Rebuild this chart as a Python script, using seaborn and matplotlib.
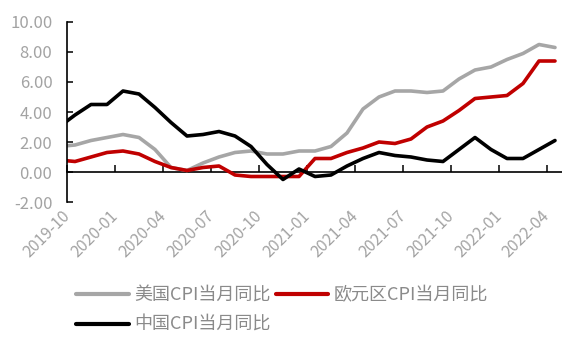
import numpy as np
import pandas as pd
import matplotlib
matplotlib.use("Agg")
import matplotlib.pyplot as plt
from matplotlib.ticker import FormatStrFormatter
import seaborn as sns

# Monthly year-on-year CPI (%), 2019-09 .. 2022-04
months = [
    "2019-09", "2019-10", "2019-11", "2019-12",
    "2020-01", "2020-02", "2020-03", "2020-04", "2020-05", "2020-06",
    "2020-07", "2020-08", "2020-09", "2020-10", "2020-11", "2020-12",
    "2021-01", "2021-02", "2021-03", "2021-04", "2021-05", "2021-06",
    "2021-07", "2021-08", "2021-09", "2021-10", "2021-11", "2021-12",
    "2022-01", "2022-02", "2022-03", "2022-04",
]
us_cpi = [1.7, 1.8, 2.1, 2.3,
          2.5, 2.3, 1.5, 0.3, 0.1, 0.6, 1.0, 1.3, 1.4, 1.2, 1.2, 1.4,
          1.4, 1.7, 2.6, 4.2, 5.0, 5.4, 5.4, 5.3, 5.4, 6.2, 6.8, 7.0,
          7.5, 7.9, 8.5, 8.3]
euro_cpi = [0.8, 0.7, 1.0, 1.3,
            1.4, 1.2, 0.7, 0.3, 0.1, 0.3, 0.4, -0.2, -0.3, -0.3, -0.3, -0.3,
            0.9, 0.9, 1.3, 1.6, 2.0, 1.9, 2.2, 3.0, 3.4, 4.1, 4.9, 5.0,
            5.1, 5.9, 7.4, 7.4]
china_cpi = [3.0, 3.8, 4.5, 4.5,
             5.4, 5.2, 4.3, 3.3, 2.4, 2.5, 2.7, 2.4, 1.7, 0.5, -0.5, 0.2,
             -0.3, -0.2, 0.4, 0.9, 1.3, 1.1, 1.0, 0.8, 0.7, 1.5, 2.3, 1.5,
             0.9, 0.9, 1.5, 2.1]

series_names = ["美国CPI当月同比", "欧元区CPI当月同比", "中国CPI当月同比"]
series_colors = ["#A6A6A6", "#C00000", "#000000"]
tick_labels = ["2019-10", "2020-01", "2020-04", "2020-07", "2020-10", "2021-01",
               "2021-04", "2021-07", "2021-10", "2022-01", "2022-04"]

sns.set_theme(style="white")
plt.rcParams["font.family"] = ["Noto Sans CJK SC", "DejaVu Sans"]
plt.rcParams["axes.unicode_minus"] = False

# category positions: 2019-10 is category 0
pos = np.arange(len(months)) - months.index("2019-10")
df = pd.DataFrame({
    "pos": np.tile(pos, 3),
    "value": us_cpi + euro_cpi + china_cpi,
    "series": np.repeat(series_names, len(months)),
})

fig = plt.figure(figsize=(5.62, 3.38), dpi=100)
ax = fig.add_axes([67 / 562, 1 - 202 / 338, (563 - 67) / 562, 180 / 338])

sns.lineplot(data=df, x="pos", y="value", hue="series", hue_order=series_names,
             palette=series_colors, linewidth=2.6, legend=False, ax=ax,
             solid_joinstyle="round", solid_capstyle="round")

ax.set_xlim(-0.5, len(months) - 1.5)
ax.set_ylim(-2, 10)
ax.set_xlabel("")
ax.set_ylabel("")

label_color = "#A3A3A3"

# y axis
ax.set_yticks(np.arange(-2, 10.01, 2))
ax.yaxis.set_major_formatter(FormatStrFormatter("%.2f"))
ax.tick_params(axis="y", direction="in", length=4.5, width=1.1, color="black",
               labelsize=12, labelcolor=label_color, pad=10.5, left=True)

# tick positions sit on category boundaries
tick_pos = [months.index(t) - months.index("2019-10") - 0.5 for t in tick_labels]
ax.set_xticks(tick_pos)
ax.set_xticklabels(tick_labels, rotation=45, ha="right", va="center",
                   rotation_mode="anchor", color=label_color, fontsize=11.5)
ax.tick_params(axis="x", length=0, pad=8, bottom=True)

for side in ["top", "right", "bottom"]:
    ax.spines[side].set_visible(False)
ax.spines["left"].set_color("black")
ax.spines["left"].set_linewidth(1.2)

# horizontal axis line at zero with inward tick marks
zero_axis = ax.secondary_xaxis(0, transform=ax.transData)
zero_axis.set_xticks(tick_pos)
zero_axis.set_xticklabels([])
zero_axis.tick_params(direction="in", length=5, width=1.1, color="black")
zero_axis.spines["bottom"].set_color("black")
zero_axis.spines["bottom"].set_linewidth(1.2)

# legend: two columns, China on the second row
handles = ax.get_lines()[:3]
order = [0, 2, 1]
leg = fig.legend([handles[i] for i in order], [series_names[i] for i in order],
                 ncol=2, loc="center", bbox_to_anchor=(282 / 562, 1 - 310 / 338),
                 frameon=False, fontsize=13, handlelength=2.9, handletextpad=0.3,
                 columnspacing=0.3, labelspacing=0.65, borderpad=0)
for txt in leg.get_texts():
    txt.set_color("#8A8A8A")
for line in leg.get_lines():
    line.set_linewidth(3)

fig.savefig("out.png", dpi=100)
